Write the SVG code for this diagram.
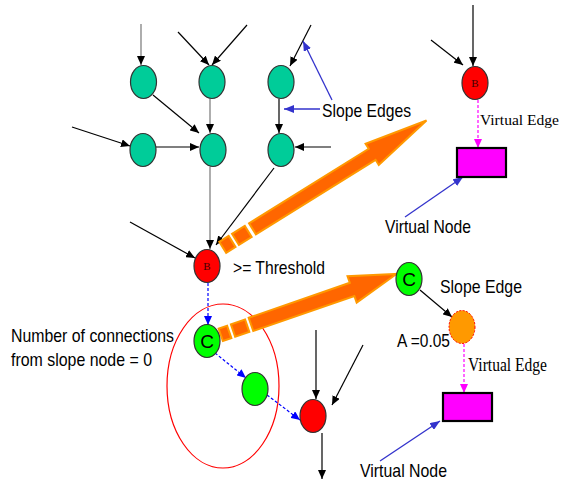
<svg xmlns="http://www.w3.org/2000/svg" width="561" height="484" viewBox="0 0 561 484">
<style>
.ln{stroke:#000;stroke-width:1.2;fill:none}
.gr{stroke:#777;stroke-width:1.2;fill:none}
.bd{stroke:#0000FF;stroke-width:1.2;stroke-dasharray:3,2;fill:none}
.md{stroke:#FF00FF;stroke-width:1.2;stroke-dasharray:3,2;fill:none}
.bl{stroke:#3333CC;stroke-width:1.3;fill:none}
.tl{fill:#00CC99;stroke:#333;stroke-width:1.2}
.rd{fill:#FF0000;stroke:#333;stroke-width:1.2}
.gn{fill:#00FF00;stroke:#333;stroke-width:1.2}
.vn{fill:#FF00FF;stroke:#000;stroke-width:2.2}
.oa{fill:#FF6600;stroke:#FF9900;stroke-width:2;stroke-linejoin:miter}
.sans{font-family:"Liberation Sans",Arial,sans-serif;font-size:18.5px;fill:#000}
.serif{font-family:"Liberation Serif","Times New Roman",serif;font-size:18px;fill:#000}
.bt{font-family:"Liberation Serif",serif;font-size:11px;fill:#400000;text-anchor:middle}
.ct{font-family:"Liberation Sans",Arial,sans-serif;font-size:19px;fill:#000;text-anchor:middle}
</style>
<defs>
<marker id="ak" markerUnits="userSpaceOnUse" markerWidth="9" markerHeight="8" refX="9" refY="4" orient="auto"><path d="M0,0 L9,4 L0,8 z" fill="#000"/></marker>
<marker id="ab" markerUnits="userSpaceOnUse" markerWidth="9" markerHeight="8" refX="9" refY="4" orient="auto"><path d="M0,0 L9,4 L0,8 z" fill="#0000FF"/></marker>
<marker id="ap" markerUnits="userSpaceOnUse" markerWidth="9" markerHeight="8" refX="9" refY="4" orient="auto"><path d="M0,0 L9,4 L0,8 z" fill="#FF00FF"/></marker>
<marker id="ac" markerUnits="userSpaceOnUse" markerWidth="10" markerHeight="8" refX="10" refY="4" orient="auto"><path d="M0,0 L10,4 L0,8 z" fill="#3333CC"/></marker>
</defs>

<ellipse id="region" cx="223" cy="386" rx="56" ry="82" fill="none" stroke="#FF0000" stroke-width="1.2"/>

<g id="connectors">
<line class="gr" x1="141" y1="24" x2="141" y2="65" marker-end="url(#ak)"/>
<line class="ln" x1="178" y1="32" x2="209" y2="65" marker-end="url(#ak)"/>
<line class="ln" x1="247" y1="25" x2="212" y2="65" marker-end="url(#ak)"/>
<line class="ln" x1="311" y1="25" x2="290" y2="66" marker-end="url(#ak)"/>
<line class="ln" x1="153" y1="95" x2="199" y2="133" marker-end="url(#ak)"/>
<line class="gr" x1="210" y1="99" x2="210" y2="133" marker-end="url(#ak)"/>
<line class="ln" x1="279" y1="99" x2="279" y2="133" marker-end="url(#ak)"/>
<line class="ln" x1="72" y1="127" x2="130" y2="146" marker-end="url(#ak)"/>
<line class="ln" x1="156" y1="147" x2="199" y2="147" marker-end="url(#ak)"/>
<line class="ln" x1="331" y1="147" x2="295" y2="147" marker-end="url(#ak)"/>
<line class="gr" x1="210" y1="167" x2="210" y2="249" marker-end="url(#ak)"/>
<line class="ln" x1="274" y1="168" x2="216" y2="245" marker-end="url(#ak)"/>
<line class="ln" x1="130" y1="222" x2="195" y2="258" marker-end="url(#ak)"/>
<line class="ln" x1="473" y1="5" x2="473" y2="66" marker-end="url(#ak)"/>
<line class="ln" x1="431" y1="40" x2="463" y2="65" marker-end="url(#ak)"/>
<line class="ln" x1="316" y1="330" x2="316" y2="399" marker-end="url(#ak)"/>
<line class="ln" x1="363" y1="345" x2="332" y2="405" marker-end="url(#ak)"/>
<line class="ln" x1="322" y1="433" x2="322" y2="479" marker-end="url(#ak)"/>
<line class="ln" x1="420" y1="290" x2="452" y2="317" marker-end="url(#ak)"/>
<line class="bd" x1="208" y1="283" x2="208" y2="325" marker-end="url(#ab)"/>
<line class="bd" x1="215" y1="353" x2="246" y2="378" marker-end="url(#ab)"/>
<line class="bd" x1="267" y1="395" x2="300" y2="420" marker-end="url(#ab)"/>
<line class="md" x1="478" y1="100" x2="478" y2="148" marker-end="url(#ap)"/>
<line class="md" x1="464" y1="344" x2="464" y2="393" marker-end="url(#ap)"/>
<line class="bl" x1="332" y1="100" x2="303" y2="41" marker-end="url(#ac)"/>
<line class="bl" x1="320" y1="109" x2="284" y2="109" marker-end="url(#ac)"/>
<line class="bl" x1="405" y1="217" x2="463" y2="177" marker-end="url(#ac)"/>
<line class="bl" x1="380" y1="461" x2="440" y2="421" marker-end="url(#ac)"/>
</g>

<g id="bigarrow1" transform="translate(426.5,120.5) rotate(-31.9)">
<rect class="oa" x="-240" y="-6.5" width="11" height="13"/>
<rect class="oa" x="-225" y="-6.5" width="15" height="13"/>
<path class="oa" d="M-205,-6.5 L-64,-6.5 L-64,-12.5 L0,0 L-64,12.5 L-64,6.5 L-205,6.5 Z"/>
</g>
<g id="bigarrow2" transform="translate(396.5,274) rotate(-19.1)">
<rect class="oa" x="-186" y="-6.5" width="9" height="13"/>
<rect class="oa" x="-173" y="-6.5" width="15" height="13"/>
<path class="oa" d="M-154,-7 L-47,-7 L-47,-14 L0,0 L-47,14 L-47,7 L-154,7 Z"/>
</g>

<g id="n1"><ellipse class="tl" cx="143.5" cy="82" rx="13" ry="16.5"/></g>
<g id="n2"><ellipse class="tl" cx="212" cy="82" rx="13" ry="16.5"/></g>
<g id="n3"><ellipse class="tl" cx="281" cy="82" rx="13" ry="16.5"/></g>
<g id="n4"><ellipse class="tl" cx="143" cy="150" rx="13" ry="16.5"/></g>
<g id="n5"><ellipse class="tl" cx="213" cy="150" rx="13" ry="16.5"/></g>
<g id="n6"><ellipse class="tl" cx="281" cy="150" rx="13" ry="16.5"/></g>
<g id="nB"><ellipse class="rd" cx="207" cy="266" rx="13" ry="16.5"/><text class="bt" x="207" y="270">B</text></g>
<g id="nB2"><ellipse class="rd" cx="475" cy="83" rx="13" ry="16.5"/><text class="bt" x="475" y="87">B</text></g>
<g id="nC"><ellipse class="gn" cx="207" cy="341" rx="13" ry="16.5"/><text class="ct" x="207" y="348">C</text></g>
<g id="nG"><ellipse class="gn" cx="255" cy="389" rx="13" ry="16.5"/></g>
<g id="nR"><ellipse class="rd" cx="313" cy="416" rx="13" ry="16.5"/></g>
<g id="nC2"><ellipse class="gn" cx="409" cy="279" rx="13" ry="16.5"/><text class="ct" x="409" y="286">C</text></g>
<g id="nO"><ellipse cx="462" cy="327" rx="13" ry="16.5" fill="#FF9900" stroke="#FF0000" stroke-width="1" stroke-dasharray="2,1.5"/></g>
<g id="vn1"><rect class="vn" x="457" y="148" width="49" height="29"/></g>
<g id="vn2"><rect class="vn" x="443" y="393" width="49" height="28"/></g>

<g id="labels">
<text class="sans" x="322" y="117" textLength="89" lengthAdjust="spacingAndGlyphs">Slope Edges</text>
<text class="serif" x="480" y="125" style="font-size:15.5px" textLength="79" lengthAdjust="spacingAndGlyphs">Virtual Edge</text>
<text class="sans" x="385" y="233" textLength="86" lengthAdjust="spacingAndGlyphs">Virtual Node</text>
<text class="sans" x="233" y="274" textLength="92" lengthAdjust="spacingAndGlyphs">&gt;= Threshold</text>
<text class="sans" x="11" y="342" textLength="163" lengthAdjust="spacingAndGlyphs">Number of connections</text>
<text class="sans" x="11" y="366" textLength="141" lengthAdjust="spacingAndGlyphs">from slope node = 0</text>
<text class="sans" x="440" y="293" textLength="82" lengthAdjust="spacingAndGlyphs">Slope Edge</text>
<text class="sans" x="397" y="347" textLength="53" lengthAdjust="spacingAndGlyphs">A =0.05</text>
<text class="serif" x="468" y="371" textLength="79" lengthAdjust="spacingAndGlyphs">Virtual Edge</text>
<text class="sans" x="360" y="477" textLength="87" lengthAdjust="spacingAndGlyphs">Virtual Node</text>
</g>
</svg>
